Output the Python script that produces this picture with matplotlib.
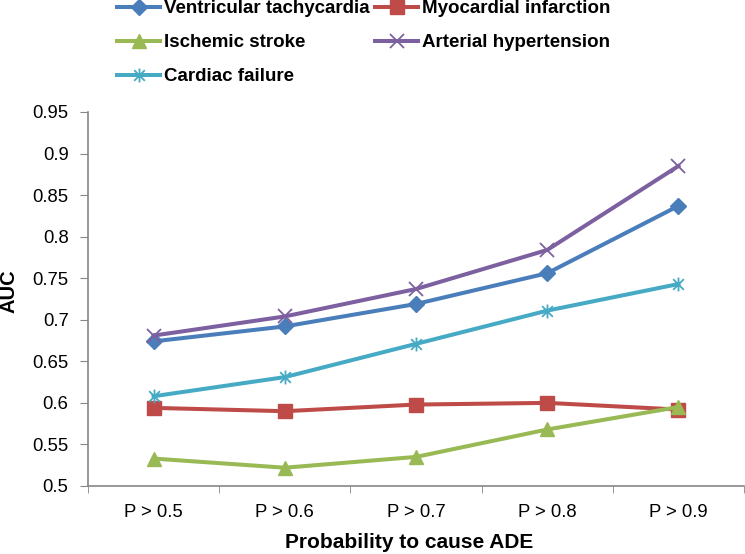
import numpy as np
import matplotlib
matplotlib.use("Agg")
import matplotlib.pyplot as plt
from matplotlib.path import Path

plt.rcParams['font.family'] = ['Liberation Sans', 'DejaVu Sans']

categories = ['P > 0.5', 'P > 0.6', 'P > 0.7', 'P > 0.8', 'P > 0.9']
vt = [0.674, 0.692, 0.719, 0.756, 0.837]   # Ventricular tachycardia
mi = [0.594, 0.590, 0.598, 0.600, 0.592]   # Myocardial infarction
ist = [0.533, 0.522, 0.535, 0.568, 0.595]  # Ischemic stroke
ah = [0.681, 0.704, 0.737, 0.784, 0.885]   # Arterial hypertension
cf = [0.608, 0.631, 0.671, 0.711, 0.743]   # Cardiac failure
yticks = [0.5, 0.55, 0.6, 0.65, 0.7, 0.75, 0.8, 0.85, 0.9, 0.95]

# excel style star: x with a vertical bar
star = Path([(-1, -1), (1, 1), (-1, 1), (1, -1), (0, -1.3), (0, 1.3)],
            [Path.MOVETO, Path.LINETO, Path.MOVETO, Path.LINETO, Path.MOVETO, Path.LINETO])

fig = plt.figure(figsize=(7.45, 5.54), dpi=100)
ax = fig.add_axes([88/745, 1-486/554, 656/745, 374/554])
x = np.arange(len(categories))
lw = 2.9
l1, = ax.plot(x, vt, color='#4A7EBB', lw=lw, marker='D', ms=8.5, label='Ventricular tachycardia')
l2, = ax.plot(x, mi, color='#BE4B48', lw=lw, marker='s', ms=10, label='Myocardial infarction')
l3, = ax.plot(x, ist, color='#98B954', lw=lw, marker='^', ms=10.5, label='Ischemic stroke')
l4, = ax.plot(x, ah, color='#7D60A0', lw=lw, marker='x', ms=10, mew=1.3, label='Arterial hypertension')
l5, = ax.plot(x, cf, color='#46AAC5', lw=lw, marker=star, ms=10, mew=1.3, label='Cardiac failure')

ax.set_xlim(-0.5, 4.5)
ax.set_ylim(0.5, 0.95)
ax.set_yticks(yticks)
ax.set_yticklabels([f'{v:g}' for v in yticks])
ax.set_xticks(x)
ax.set_xticklabels(categories)
ax.set_xticks(np.arange(-0.5, 5, 1), minor=True)
ax.tick_params(axis='x', which='major', length=0, pad=13, labelsize=13.3)
ax.tick_params(axis='x', which='minor', length=5, color='#868686', direction='out')
ax.tick_params(axis='y', length=6, color='#868686', pad=8, labelsize=13.3)
for s in ['top', 'right']:
    ax.spines[s].set_visible(False)
for s in ['left', 'bottom']:
    ax.spines[s].set_color('#868686')
    ax.spines[s].set_linewidth(1.2)
ax.set_ylabel('AUC', fontsize=14.5, fontweight='bold', va='center', ha='center')
ax.yaxis.set_label_coords(-79/656, 0.52)
ax.set_xlabel('Probability to cause ADE', fontsize=15, fontweight='bold', va='center', ha='center')
ax.xaxis.set_label_coords(0.489, -57/374)

fig.legend([l1, l3, l5, l2, l4], [h.get_label() for h in [l1, l3, l5, l2, l4]],
           ncol=2, loc='upper left', bbox_to_anchor=(117/745, 1.0), frameon=False,
           prop={'weight': 'bold', 'size': 13.5}, handlelength=2.3, handletextpad=0.2,
           columnspacing=0.3, labelspacing=0.9, borderpad=0, borderaxespad=0)

fig.savefig('out.png', dpi=100)
